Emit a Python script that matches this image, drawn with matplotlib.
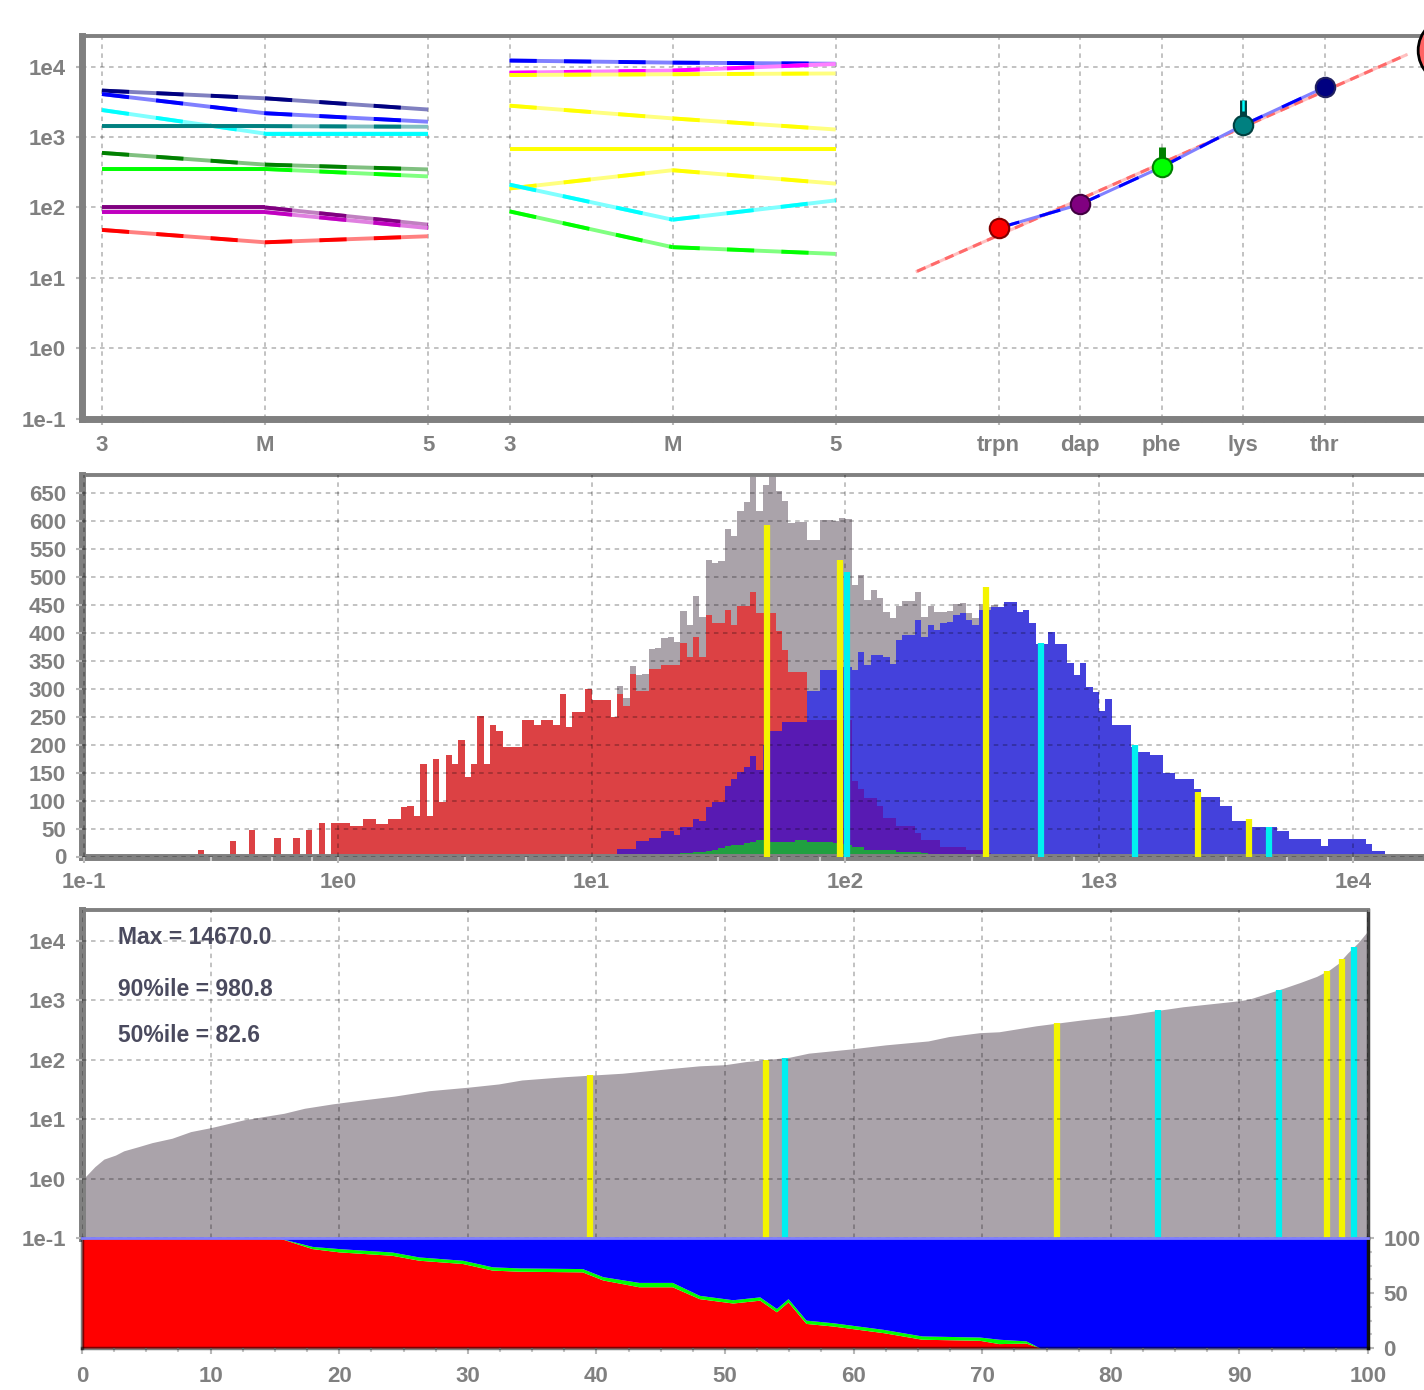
import numpy as np
import matplotlib

matplotlib.use("Agg")
import matplotlib.pyplot as plt  # noqa:E402
from matplotlib.colors import to_rgb  # noqa:E402
from matplotlib.ticker import FixedLocator, NullLocator, NullFormatter  # noqa:E402

# ---------------- top panel: ladder intensities ----------------
charge_labels = ["3", "M", "5"]

left_values = [
    [4570, 3550, 2460],
    [4080, 2180, 1650],
    [2420, 1120, 1120],
    [1430, 1430, 1400],
    [596, 406, 347],
    [352, 352, 276],
    [100, 100, 57],
    [86, 86, 51],
    [48, 32, 39],
]
left_colors = ["#000080", "#0000ff", "#00ffff", "#008080", "#008000",
               "#00ff00", "#800080", "#c000c0", "#ff0000"]

right_values = [
    [12200, 11400, 11000],
    [8200, 8800, 10900],
    [7600, 7800, 8000],
    [2790, 1840, 1280],
    [676, 676, 676],
    [186, 338, 218],
    [211, 67, 126],
    [88, 27.3, 21.9],
]
right_colors = ["#0000ff", "#ff00ff", "#ffff00", "#ffff00", "#ffff00",
                "#ffff00", "#00ffff", "#00ff00"]

amino_labels = ["trpn", "dap", "phe", "lys", "thr"]
amino_values = [51, 111, 376, 1480, 5090]
amino_upper = [51, 111, 724, 3360, 5090]
amino_colors = ["#ff0000", "#800080", "#00ff00", "#008080", "#000080"]
amino_edges = ["#800000", "#400040", "#008000", "#004040", "#202060"]
fit_ends = [12.4, 14670.0]
outlier_value = 17300

# ---------------- middle panel: log-binned histograms ----------------
bin_step = 0.025
grid_start = -0.75
n_bins = 195

red_start = -0.75
red_counts = [
    0, 3, 0, 0, 0, 0, 0, 0, 12, 0,
    0, 0, 0, 27, 0, 0, 48, 0, 0, 0,
    33, 0, 0, 33, 0, 48, 0, 60, 0, 60,
    60, 60, 54, 54, 68, 68, 59, 59, 68, 68,
    88, 90, 73, 166, 73, 174, 97, 181, 165, 209,
    143, 166, 251, 166, 235, 225, 196, 196, 196, 244,
    244, 235, 244, 244, 235, 291, 232, 258, 258, 300,
    280, 280, 280, 250, 291, 270, 327, 297, 297, 336,
    336, 342, 342, 342, 382, 357, 392, 357, 432, 417,
    417, 441, 414, 448, 448, 474, 436, 436, 436, 403,
    370, 330, 330, 330, 244, 244, 244, 244, 244, 244,
    244, 136, 121, 105, 105, 90, 69, 69, 54, 54,
    54, 42, 29, 29, 29, 17, 17, 17, 17, 11,
    11, 11, 6, 3,
]

blue_start = 1.1
blue_counts = [
    14, 14, 14, 27, 27, 34, 34, 46, 46, 38,
    52, 52, 67, 64, 88, 97, 97, 127, 139, 151,
    161, 179, 154, 200, 225, 225, 240, 240, 240, 240,
    297, 297, 333, 333, 333, 340, 340, 333, 366, 342,
    360, 360, 357, 345, 387, 396, 396, 423, 393, 414,
    405, 417, 420, 432, 435, 423, 414, 441, 441, 447,
    447, 456, 456, 438, 441, 417, 381, 380, 402, 381,
    381, 346, 324, 346, 303, 294, 261, 282, 235, 235,
    235, 196, 187, 187, 181, 181, 150, 150, 139, 139,
    139, 120, 106, 106, 106, 91, 91, 64, 64, 64,
    52, 52, 52, 52, 46, 46, 31, 31, 31, 31,
    31, 19, 31, 31, 31, 31, 31, 31, 22, 10,
    10,
]

green_start = 1.2
green_counts = [
    2, 2, 3, 3, 4, 4, 6, 6, 8, 8,
    10, 12, 15, 18, 20, 20, 25, 26, 29, 29,
    26, 26, 26, 26, 29, 29, 26, 26, 26, 26,
    24, 22, 20, 17, 17, 12, 12, 12, 12, 12,
    8, 8, 8, 8, 6, 5, 4, 4, 3, 3,
    2, 2, 1,
]

marker_values = [49, 95, 102, 360, 590, 1390, 2450, 3890, 4680]
marker_counts = [593, 530, 510, 483, 382, 200, 116, 67, 52]
marker_pcts = [39.5, 53.2, 54.7, 75.8, 83.7, 93.1, 96.8, 98.0, 98.9]
marker_colors = ["#f4f400", "#f4f400", "#00f0f0", "#f4f400", "#00f0f0",
                 "#00f0f0", "#f4f400", "#f4f400", "#00f0f0"]

# ---------------- bottom panel: sorted intensities ----------------
max_value = 14670.0
p90_value = 980.8
p50_value = 82.6

pct_rank = [0, 0.5, 1.0, 1.7, 2.6, 3.25, 4.4, 5.45, 7.0, 8.45,
            10.1, 12.6, 15.7, 17.3, 19.45, 21.8, 24.3, 27.0, 30.1, 32.4,
            34.2, 37.6, 42.0, 45.4, 48.0, 50.0, 51.6, 55.0, 56.5, 59.7,
            62.5, 65.8, 67.4, 69.8, 71.3, 74.2, 77.8, 81.2, 84.0, 85.6,
            88.2, 90.0, 90.8, 93.4, 94.7, 96.0, 97.0, 97.7, 98.4, 99.2,
            100]
pct_value = [0.95, 1.23, 1.6, 2.14, 2.5, 2.95, 3.47, 4.05, 4.8, 6.2,
             7.3, 9.8, 12.6, 15.3, 18.1, 21.1, 24.5, 30.2, 34.7, 39.2,
             45.7, 52, 59.3, 70, 79, p50_value, 93, 110, 129, 151,
             178, 207, 245, 285, 295, 372, 468, 562, 692, 776,
             891, p90_value, 1050, 1585, 1977, 2512, 3236, 4169, 6166, 9120,
             max_value]

mix_pct = [0, 15.4, 17.9, 20.0, 24.1, 26.2, 29.6, 31.9, 34.0, 38.9,
           40.5, 43.3, 45.9, 48.0, 50.6, 52.7, 54.0, 54.9, 56.3, 58.4,
           62.3, 65.3, 69.8, 71.3, 73.4, 74.5, 100]
red_share = [100, 100, 90.6, 87.6, 84.5, 80, 77, 71, 70, 69.4,
             62, 55.8, 55.8, 45, 41, 43.6, 33, 42, 22.4, 20,
             14, 8, 7, 4, 4.5, 0, 0]
green_share = [0, 0, 2, 3, 3, 3, 3, 3, 3, 3,
               3, 4, 4, 3, 3, 3, 3, 3, 3, 3,
               3, 3, 3, 4, 2, 0, 0]

# ---------------- styling ----------------
plt.rcParams["font.family"] = ["Liberation Sans", "DejaVu Sans"]
plt.rcParams["font.weight"] = "bold"
GRAY = "#808080"
TICK_FS = 16
W, H = 1424, 1390


def px_axes(fig, left, top, right, bottom):
    return fig.add_axes([left / W, 1 - bottom / H, (right - left) / W, (bottom - top) / H])


def lighten(color):
    return tuple(0.5 * np.array(to_rgb(color)) + 0.5)


def two_tone(ax, xs, ys, color, lw=2.8, zorder=3):
    """dark line with lighter stripes on the sloped stretches"""
    ax.plot(xs, ys, color=lighten(color), lw=lw, solid_capstyle="butt", zorder=zorder)
    for x0, x1, y0, y1 in zip(xs[:-1], xs[1:], ys[:-1], ys[1:]):
        ls = "-" if y0 == y1 else (0, (7, 7))
        ax.plot([x0, x1], [y0, y1], color=color, lw=lw, ls=ls,
                solid_capstyle="butt", dash_capstyle="butt", zorder=zorder)


def base_style(ax, pad=7.5):
    ax.tick_params(which="major", direction="out", length=4, width=1.5,
                   color="#b8b8b8", labelcolor=GRAY, labelsize=TICK_FS, pad=pad)
    ax.tick_params(which="minor", direction="out", length=3, width=1.5, color="#c8c8c8")
    ax.grid(True, which="major", color="black", alpha=0.26,
            linestyle=(0, (2.5, 2.5)), lw=1.3)
    for side in ax.spines:
        ax.spines[side].set_color(GRAY)
    ax.spines["left"].set_linewidth(5)
    ax.spines["bottom"].set_linewidth(5)
    ax.spines["top"].set_linewidth(2.8)
    ax.spines["right"].set_visible(False)


def decade_labels(lo, hi):
    return [f"1e{k}" for k in range(lo, hi + 1)]


def on_grid(start, counts):
    full = np.zeros(n_bins)
    i0 = int(round((start - grid_start) / bin_step))
    full[i0:i0 + len(counts)] = counts
    return full


def plot_ladders(ax):
    left_pos = np.array([0, 2, 4])
    right_pos = np.array([5, 7, 9])
    amino_pos = np.arange(11, 16)

    for vals, color in zip(left_values, left_colors):
        two_tone(ax, left_pos, vals, color)
    for vals, color in zip(right_values, right_colors):
        two_tone(ax, right_pos, vals, color)

    # fit line through the amino acid standards
    ax.plot([10, 16], fit_ends, color="#ffc0c0", lw=2.2, zorder=3)
    ax.plot([10, 16], fit_ends, color="#ff6a6a", lw=2.2, ls=(0, (3, 2)), zorder=3)
    two_tone(ax, amino_pos, amino_values, "#0000ff", lw=2.2, zorder=4)

    for x, v, up, c, ec in zip(amino_pos, amino_values, amino_upper, amino_colors, amino_edges):
        if up > v:
            ax.vlines(x, v, up, color=ec, lw=5, zorder=5)
        ax.plot(x, v, "o", ms=14, mfc=c, mec=ec, mew=1.5, zorder=6)
    ax.vlines(amino_pos[3], amino_values[3] * 1.6, amino_upper[3], color="#00ffff", lw=1.8, zorder=5)

    ax.plot(16.55, outlier_value, "o", ms=48, mfc="#ff6464", mec="black", mew=2,
            clip_on=False, zorder=7)

    ax.set_yscale("log")
    ax.set_ylim(0.1, 2.75e4)
    ax.set_xlim(-0.245, 16.66)
    ax.yaxis.set_major_locator(FixedLocator([10.0 ** k for k in range(-1, 5)]))
    ax.yaxis.set_minor_locator(NullLocator())
    ax.set_yticklabels(decade_labels(-1, 4))

    major = list(left_pos) + list(right_pos) + list(amino_pos)
    ax.xaxis.set_major_locator(FixedLocator(major))
    ax.set_xticklabels(charge_labels * 2 + amino_labels)
    minor = [m for m in np.arange(0, 9.51, 0.5)] + [m for m in np.arange(10, 16.01, 0.25)]
    minor = [m for m in minor if m not in major]
    ax.xaxis.set_minor_locator(FixedLocator(minor))
    ax.xaxis.set_minor_formatter(NullFormatter())
    ax.set_axisbelow(True)


def plot_histogram(ax):
    edges = 10 ** (grid_start + bin_step * np.arange(n_bins + 1))
    red = on_grid(red_start, red_counts)
    blue = on_grid(blue_start, blue_counts)
    green = on_grid(green_start, green_counts)
    total = red + blue + green

    ax.stairs(total, edges, fill=True, color="#aaa3aa", zorder=1)
    ax.stairs(red, edges, fill=True, color="#ff0000", alpha=0.6, zorder=1.1)
    ax.stairs(blue, edges, fill=True, color="#0000ff", alpha=0.6, zorder=1.2)
    ax.stairs(green, edges, fill=True, color="#20a040", zorder=1.3)
    ax.vlines(marker_values, 0, marker_counts, colors=marker_colors, lw=4.5, zorder=3)

    ax.set_xscale("log")
    ax.set_xlim(10 ** -1.0075, 10 ** 4.422)
    ax.set_ylim(0, 682.7)
    ax.yaxis.set_major_locator(FixedLocator(np.arange(0, 651, 50)))
    ax.xaxis.set_major_locator(FixedLocator([10.0 ** k for k in range(-1, 5)]))
    ax.set_xticklabels(decade_labels(-1, 4))
    minor = [10 ** (d + f) for d in range(-1, 5) for f in (0.5, 0.74, 0.9)]
    ax.xaxis.set_minor_locator(FixedLocator(minor))
    ax.xaxis.set_minor_formatter(NullFormatter())
    ax.set_axisbelow(False)


def plot_percentiles(ax, strip):
    ax.fill_between(pct_rank, 0.1, pct_value, color="#aaa3aa", lw=0, zorder=1)
    log_curve = np.log10(pct_value)
    tops = 10 ** np.interp(marker_pcts, pct_rank, log_curve)
    ax.vlines(marker_pcts, 0.1, tops, colors=marker_colors, lw=4.5, zorder=1.5)

    labels = [f"Max = {max_value:.1f}", f"90%ile = {p90_value:.1f}", f"50%ile = {p50_value:.1f}"]
    for y, text in zip([0.915, 0.759, 0.619], labels):
        ax.text(0.028, y, text, transform=ax.transAxes, fontsize=16.5,
                color="#4a4a5e", va="center", ha="left", zorder=4)

    ax.set_yscale("log")
    ax.set_ylim(0.1, 10 ** 4.516)
    ax.set_xlim(0, 100)
    ax.yaxis.set_major_locator(FixedLocator([10.0 ** k for k in range(-1, 5)]))
    ax.yaxis.set_minor_locator(NullLocator())
    ax.set_yticklabels(decade_labels(-1, 4))
    ax.xaxis.set_major_locator(FixedLocator(np.arange(0, 101, 10)))
    ax.tick_params(axis="x", which="both", bottom=False, labelbottom=False)
    ax.spines["bottom"].set_visible(False)
    ax.spines["right"].set_visible(True)
    ax.spines["right"].set_color("#404040")
    ax.spines["right"].set_linewidth(2.5)
    ax.set_axisbelow(False)

    # composition strip underneath
    red = np.array(red_share)
    green = np.array(green_share)
    strip.fill_between(mix_pct, 0, red, color="#ff0000", lw=0)
    strip.fill_between(mix_pct, red, red + green, color="#00ff00", lw=0)
    strip.fill_between(mix_pct, red + green, 100, color="#0000ff", lw=0)
    strip.set_xlim(0, 100)
    strip.set_ylim(0, 100)
    strip.tick_params(which="major", direction="out", length=4, width=1.5,
                      color="#b8b8b8", labelcolor=GRAY, labelsize=TICK_FS, pad=9)
    strip.tick_params(which="minor", direction="out", length=3, width=1.5, color="#c8c8c8")
    strip.xaxis.set_major_locator(FixedLocator(np.arange(0, 101, 10)))
    strip.xaxis.set_minor_locator(FixedLocator(np.arange(0, 100.1, 2.5)))
    strip.xaxis.set_minor_formatter(NullFormatter())
    strip.yaxis.tick_right()
    strip.yaxis.set_major_locator(FixedLocator([0, 50, 100]))
    strip.yaxis.set_minor_locator(FixedLocator(np.arange(0, 100.1, 12.5)))
    strip.yaxis.set_minor_formatter(NullFormatter())
    strip.tick_params(axis="y", which="both", left=False, pad=7)
    for side in ("left", "bottom"):
        strip.spines[side].set_color((0, 0, 0, 0.5))
        strip.spines[side].set_linewidth(2.5)
    strip.spines["right"].set_color("#101010")
    strip.spines["right"].set_linewidth(2.5)
    strip.spines["top"].set_color("#8080ff")
    strip.spines["top"].set_linewidth(2)


def main():
    fig = plt.figure(figsize=(W / 100, H / 100), dpi=100)

    ax_top = px_axes(fig, 82, 35.7, 1460, 418.7)
    ax_mid = px_axes(fig, 82, 475, 1460, 856.5)
    ax_low = px_axes(fig, 82, 910, 1368, 1238.3)
    ax_strip = px_axes(fig, 82, 1238.3, 1368, 1348)

    for ax in (ax_top, ax_mid, ax_low):
        base_style(ax)

    plot_ladders(ax_top)
    plot_histogram(ax_mid)
    plot_percentiles(ax_low, ax_strip)

    fig.savefig("out.png", dpi=100)
    plt.close(fig)


if __name__ == "__main__":
    main()
